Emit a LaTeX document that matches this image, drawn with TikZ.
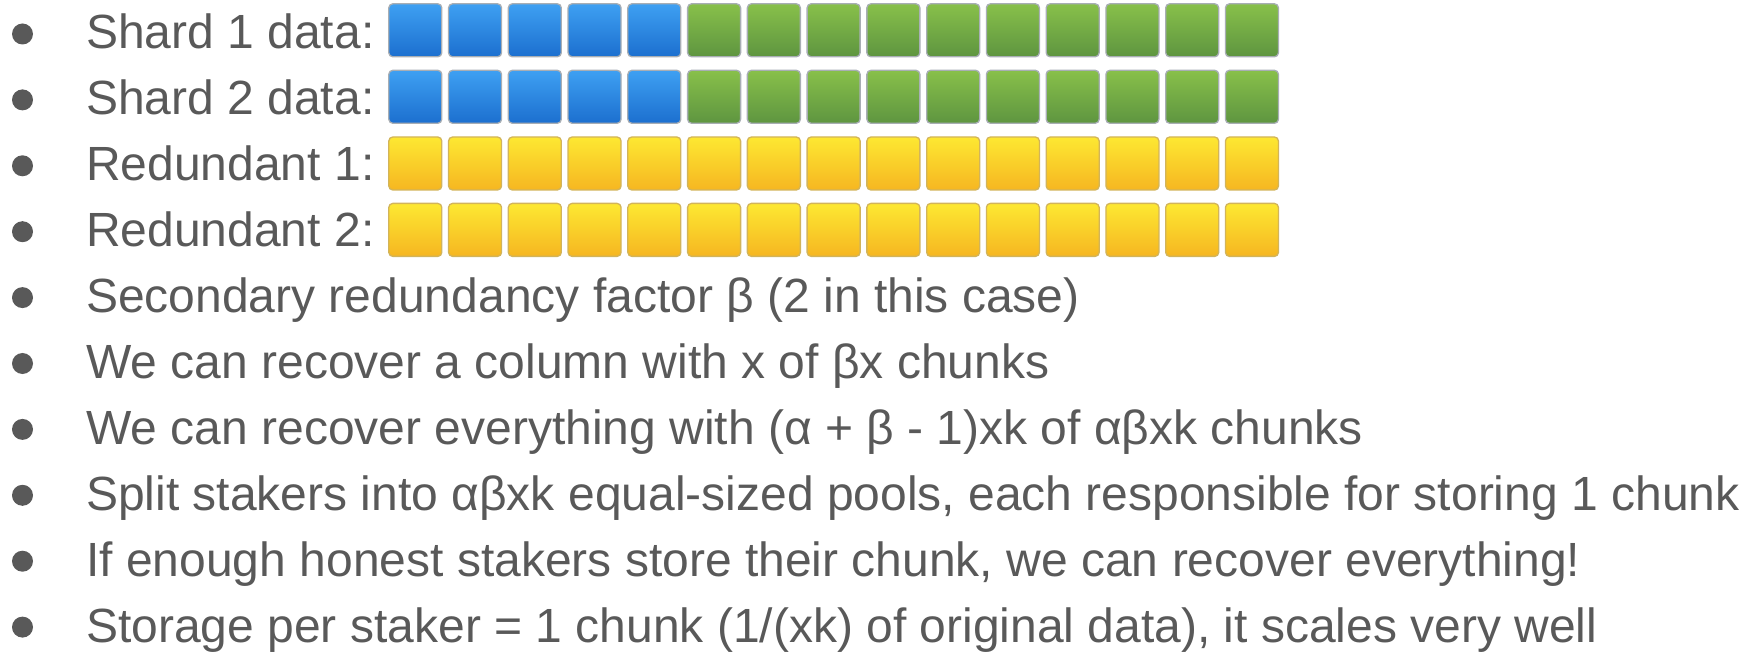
\documentclass[tikz,border=0pt]{standalone}
\usepackage{fontspec}
\setmainfont{Liberation Sans}
\usetikzlibrary{positioning}
\definecolor{textgray}{HTML}{595959}
\definecolor{bluetop}{HTML}{3EA0F2}
\definecolor{bluebot}{HTML}{1C6FCF}
\definecolor{greentop}{HTML}{88C04A}
\definecolor{greenbot}{HTML}{5E9540}
\definecolor{yellowtop}{HTML}{FDE832}
\definecolor{yellowbot}{HTML}{F6B621}
\definecolor{greyedge}{HTML}{A8AEB4}
\definecolor{yellowedge}{HTML}{D2B45A}
\tikzstyle{chunk} = [draw=greyedge, line width=1.3pt, rounded corners=4pt,
    minimum width=53pt, minimum height=53pt, inner sep=0pt]
\tikzstyle{datachunk} = [chunk, top color=bluetop, bottom color=bluebot]
\tikzstyle{extrachunk} = [chunk, top color=greentop, bottom color=greenbot]
\tikzstyle{codechunk} = [chunk, draw=yellowedge, top color=yellowtop, bottom color=yellowbot]
\tikzstyle{item} = [anchor=base west, inner sep=0pt, text=textgray,
    font=\fontsize{48}{58}\selectfont]
\tikzstyle{dot} = [circle, fill=textgray, minimum size=21pt, inner sep=0pt]

\begin{document}
\begin{tikzpicture}[x=1pt, y=-1pt]
    \useasboundingbox (0,0) rectangle (1754,652);
    % We start by placing the bullet points
    \node [item] (shardA) at (86,49) {Shard 1 data:};
    \node [item] (shardB) at (86,114.9) {Shard 2 data:};
    \node [item] (redA) at (86,180.8) {Redundant 1:};
    \node [item] (redB) at (86,246.7) {Redundant 2:};
    \node [item] (factor) at (86,312.6) {Secondary redundancy factor β (2 in this case)};
    \node [item] (column) at (86,378.5) {We can recover a column with x of βx chunks};
    \node [item] (everything) at (86,444.4) {We can recover everything with (α + β - 1)xk of αβxk chunks};
    \node [item] (split) at (86,510.3) {Split stakers into αβxk equal-sized pools, each responsible for storing 1 chunk};
    \node [item] (honest) at (86,576.2) {If enough honest stakers store their chunk, we can recover everything!};
    \node [item] (storage) at (86,642.1) {Storage per staker = 1 chunk (1/(xk) of original data), it scales very well};
    % the dots in front of every line
    \foreach \n/\y in {shardA/49, shardB/114.9, redA/180.8, redB/246.7, factor/312.6,
        column/378.5, everything/444.4, split/510.3, honest/576.2, storage/642.1}
        \node [dot] (dot-\n) at (22.5,\y-15) {};

    % Once the labels are placed, the chunks go in rows
    \foreach \r/\y in {1/30.3, 2/96.8} {
        \foreach \c in {1,...,5}
            \node [datachunk] (chunk-\r-\c) at ({415.3+59.76*(\c-1)},\y) {};
        \foreach \c in {6,...,15}
            \node [extrachunk] (chunk-\r-\c) at ({415.3+59.76*(\c-1)},\y) {};
    }
    \foreach \r/\y in {3/163.5, 4/229.9}
        \foreach \c in {1,...,15}
            \node [codechunk] (chunk-\r-\c) at ({415.3+59.76*(\c-1)},\y) {};
\end{tikzpicture}
\end{document}
